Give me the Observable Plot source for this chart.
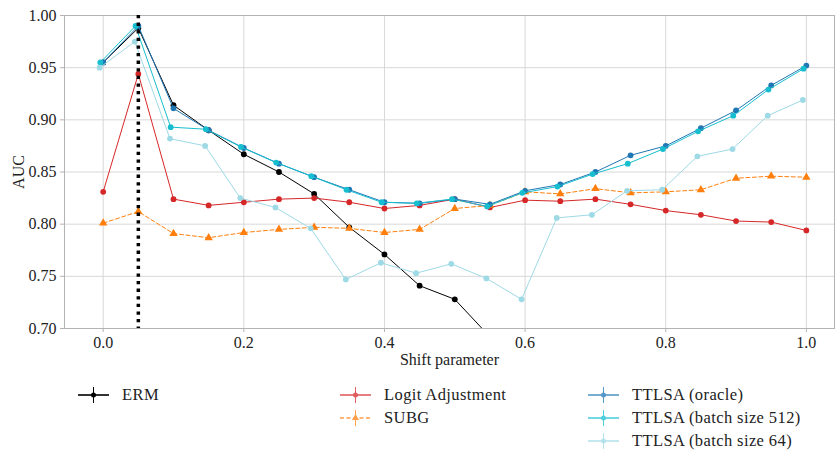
<!DOCTYPE html>
<html>
<head>
<meta charset="utf-8">
<script src="https://cdn.jsdelivr.net/npm/d3@7"></script>
<script src="https://cdn.jsdelivr.net/npm/@observablehq/plot@0.6"></script>
<style>
  html, body { margin: 0; padding: 0; background: #fff; font-family: 'Liberation Serif', serif; }
  #wrap { width: 836px; }
  #legend { position: relative; width: 836px; height: 83px; }
  .item { position: absolute; display: flex; align-items: center; font-size: 16.5px; letter-spacing: 0.4px; color: #222; white-space: nowrap; }
  .item svg { display: block; margin-right: 13px; }
</style>
</head>
<body>
<div id="wrap"></div>
<script>
// ---- data ----
const shift = [0, 0.05, 0.1, 0.15, 0.2, 0.25, 0.3, 0.35, 0.4, 0.45, 0.5, 0.55, 0.6, 0.65, 0.7, 0.75, 0.8, 0.85, 0.9, 0.95, 1.0];
const erm      = [0.955, 0.988, 0.914, 0.890, 0.867, 0.850, 0.829, 0.797, 0.771, 0.741, 0.728, 0.692, null, null, null, null, null, null, null, null, null];
const logitAdj = [0.831, 0.944, 0.824, 0.818, 0.821, 0.824, 0.825, 0.821, 0.815, 0.818, 0.824, 0.816, 0.823, 0.822, 0.824, 0.819, 0.813, 0.809, 0.803, 0.802, 0.794];
const subg     = [0.801, 0.812, 0.791, 0.787, 0.792, 0.795, 0.797, 0.796, 0.792, 0.795, 0.815, 0.818, 0.831, 0.829, 0.834, 0.830, 0.831, 0.833, 0.844, 0.846, 0.845];
const oracle   = [0.955, 0.990, 0.911, 0.890, 0.873, 0.858, 0.845, 0.833, 0.821, 0.820, 0.824, 0.819, 0.832, 0.838, 0.850, 0.866, 0.875, 0.892, 0.909, 0.933, 0.952];
const batch512 = [0.955, 0.990, 0.893, 0.891, 0.874, 0.859, 0.846, 0.833, 0.821, 0.820, 0.824, 0.817, 0.830, 0.836, 0.848, 0.858, 0.872, 0.889, 0.904, 0.929, 0.949];
const batch64  = [0.950, 0.975, 0.882, 0.875, 0.825, 0.816, 0.796, 0.747, 0.763, 0.753, 0.762, 0.748, 0.728, 0.806, 0.809, 0.832, 0.833, 0.865, 0.872, 0.904, 0.919];
const yTicks = [0.70, 0.75, 0.80, 0.85, 0.90, 0.95, 1.00];
const xTicks = [0.0, 0.2, 0.4, 0.6, 0.8, 1.0];
const trueShift = 0.05;

const series = [
  {name: "ERM",                    values: erm,      color: "#000000", dash: null, symbol: "circle", dx: 0},
  {name: "Logit Adjustment",       values: logitAdj, color: "#d62728", dash: null, symbol: "circle", dx: 0},
  {name: "SUBG",                   values: subg,     color: "#ff7f0e", dash: "4,2.5", symbol: "triangle", dx: 0},
  {name: "TTLSA (oracle)",         values: oracle,   color: "#1f77b4", dash: null, symbol: "circle", dx: 0},
  {name: "TTLSA (batch size 512)", values: batch512, color: "#17becf", dash: null, symbol: "circle", dx: -0.004},
  {name: "TTLSA (batch size 64)",  values: batch64,  color: "#9edae5", dash: null, symbol: "circle", dx: -0.005}
];

const FONT = "'Liberation Serif', serif";
const marks = [
  Plot.gridX(xTicks, {stroke: "#d8d8d8", strokeOpacity: 1}),
  Plot.gridY(yTicks, {stroke: "#d8d8d8", strokeOpacity: 1}),
  Plot.frame({stroke: "#b3b3b3"})
];
for (const s of series) {
  const rows = shift.map((x, i) => ({x: x + s.dx, y: s.values[i]}));
  marks.push(Plot.line(rows, {x: "x", y: "y", stroke: s.color, strokeWidth: 1, strokeDasharray: s.dash, clip: true}));
  marks.push(Plot.dot(rows.filter(d => d.y != null), {x: "x", y: "y", fill: s.color, stroke: "none",
    symbol: s.symbol, r: s.symbol === "triangle" ? 3.1 : 2.9, clip: true}));
}
marks.push(Plot.ruleX([trueShift], {stroke: "#000", strokeWidth: 3.5, strokeDasharray: "3.3,4.3"}));
marks.push(Plot.axisY(yTicks, {tickFormat: d3.format(".2f"), tickSize: 4, tickPadding: 4, stroke: "#b3b3b3",
  label: "AUC", labelAnchor: "center", labelArrow: "none", labelOffset: 52, fontSize: 16, fill: "#222"}));
marks.push(Plot.axisX(xTicks, {tickFormat: d3.format(".1f"), tickSize: 4, tickPadding: 4, stroke: "#b3b3b3",
  label: "Shift parameter", labelAnchor: "center", labelArrow: "none", labelOffset: 36, fontSize: 16, fill: "#222"}));

const chart = Plot.plot({
  width: 836,
  height: 370,
  marginTop: 15,
  marginBottom: 42,
  marginLeft: 64,
  marginRight: 2,
  style: {fontFamily: FONT, fontSize: "16px", background: "#fff", color: "#222"},
  x: {domain: [-0.055, 1.04]},
  y: {domain: [0.70, 1.00]},
  marks
});
const wrap = document.getElementById("wrap");
wrap.appendChild(chart);

// ---- legend ----
const legendOrder = [
  {name: "ERM", col: 0, row: 0},
  {name: "Logit Adjustment", col: 1, row: 0},
  {name: "SUBG", col: 1, row: 1},
  {name: "TTLSA (oracle)", col: 2, row: 0},
  {name: "TTLSA (batch size 512)", col: 2, row: 1},
  {name: "TTLSA (batch size 64)", col: 2, row: 2}
];
const colX = [78, 340, 588];
const rowY = [25, 48, 71];
const legend = d3.select(wrap).append("div").attr("id", "legend");
for (const it of legendOrder) {
  const s = series.find(d => d.name === it.name);
  const item = legend.append("div").attr("class", "item")
    .style("left", colX[it.col] + "px").style("top", (rowY[it.row] - 10) + "px").style("height", "20px");
  const svg = item.append("svg").attr("width", 31).attr("height", 20);
  const g = svg.append("g").attr("opacity", s.name === "ERM" ? 1 : 0.75);
  g.append("line").attr("x1", 0).attr("x2", 31).attr("y1", 10).attr("y2", 10)
    .attr("stroke", s.color).attr("stroke-width", 1.6).attr("stroke-dasharray", s.dash);
  g.append("line").attr("x1", 15.5).attr("x2", 15.5).attr("y1", 2).attr("y2", 18)
    .attr("stroke", s.color).attr("stroke-width", 1);
  if (s.symbol === "triangle") {
    g.append("path").attr("d", d3.symbol(d3.symbolTriangle, 22)()).attr("transform", "translate(15.5,10)").attr("fill", s.color);
  } else {
    g.append("circle").attr("cx", 15.5).attr("cy", 10).attr("r", 2.5).attr("fill", s.color);
  }
  item.append("span").text(s.name);
}
</script>
</body>
</html>
